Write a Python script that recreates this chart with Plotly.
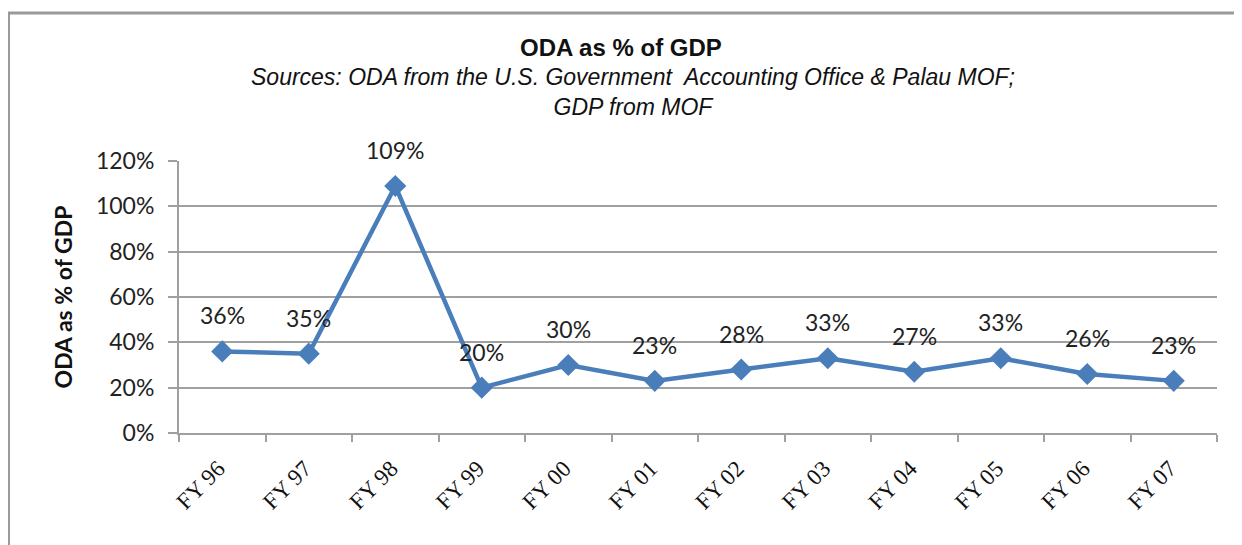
import plotly.graph_objects as go

categories = ["FY 96", "FY 97", "FY 98", "FY 99", "FY 00", "FY 01",
              "FY 02", "FY 03", "FY 04", "FY 05", "FY 06", "FY 07"]
oda_pct = [36, 35, 109, 20, 30, 23, 28, 33, 27, 33, 26, 23]
y_ticks = [0, 20, 40, 60, 80, 100, 120]
y_tick_labels = [f"{v}%" for v in y_ticks]

# page offset (default body margin of the html page)
OFF = 8
W, H = 1242 - OFF, 545 - OFF
# plot area in page pixels
PX0, PX1, PY0, PY1 = 179, 1217, 161, 433
L, T = PX0 - OFF, PY0 - OFF
R, B = W + OFF - PX1, H + OFF - PY1
pw, ph = PX1 - PX0, PY1 - PY0

fig = go.Figure()
fig.add_trace(go.Scatter(
    x=categories, y=oda_pct, mode="lines+markers",
    line=dict(color="#4A7EBB", width=4.5),
    marker=dict(symbol="diamond", size=17, color="#4A7EBB"),
    hoverinfo="skip", showlegend=False,
))

for c, v in zip(categories, oda_pct):
    fig.add_annotation(x=c, y=v, text=f"{v}%", showarrow=False,
                       yshift=36, yanchor="middle",
                       font=dict(family="Lato, Open Sans, sans-serif", size=23, color="#222"))

def px(x):
    return (x - PX0) / pw

def py(y):
    return (PY1 - y) / ph

# outer chart frame
fig.add_shape(type="rect", xref="paper", yref="paper",
              x0=px(8.5), x1=px(1270), y0=py(570), y1=py(13),
              line=dict(color="#9a9a9a", width=3), layer="below")

fig.add_annotation(xref="paper", yref="paper", x=px(621), y=py(48),
                   text="<b>ODA as % of GDP</b>", showarrow=False,
                   xanchor="center", yanchor="middle",
                   font=dict(family="Liberation Sans Narrow, Liberation Sans, Arial", size=24, color="#111"))
fig.add_annotation(xref="paper", yref="paper", x=px(633), y=py(92),
                   text="<i>Sources: ODA from the U.S. Government  Accounting Office &amp; Palau MOF;</i><br><i>GDP from MOF</i>",
                   showarrow=False, xanchor="center", yanchor="middle",
                   font=dict(family="Liberation Sans Narrow, Liberation Sans, Arial", size=23, color="#111"))

fig.update_layout(
    width=W, height=H,
    margin=dict(l=L, r=R, t=T, b=B, autoexpand=False),
    paper_bgcolor="white", plot_bgcolor="white",
    xaxis=dict(
        type="category", range=[-0.5, 11.5], automargin=False,
        tickson="boundaries", ticks="outside", ticklen=7, tickcolor="#a0a0a0", tickwidth=2,
        ticklabelstandoff=11, ticklabelshift=-4,
        showline=True, linecolor="#a0a0a0", linewidth=2, showgrid=False,
        tickangle=-45,
        tickfont=dict(family="Liberation Serif, Times New Roman, serif", size=23, color="#111"),
    ),
    yaxis=dict(
        range=[0, 120], tickvals=y_ticks, ticktext=y_tick_labels, automargin=False,
        ticks="outside", ticklen=9, tickcolor="#a0a0a0", tickwidth=2,
        ticklabelstandoff=9,
        showline=True, linecolor="#a0a0a0", linewidth=2,
        showgrid=True, gridcolor="#a0a0a0", gridwidth=2, zeroline=False,
        tickfont=dict(family="Lato, Open Sans, sans-serif", size=23, color="#222"),
        title=dict(text="<b>ODA as % of GDP</b>", standoff=17,
                   font=dict(family="Lato, Open Sans, sans-serif", size=23, color="#111")),
    ),
)

fig.write_html("out.html")
